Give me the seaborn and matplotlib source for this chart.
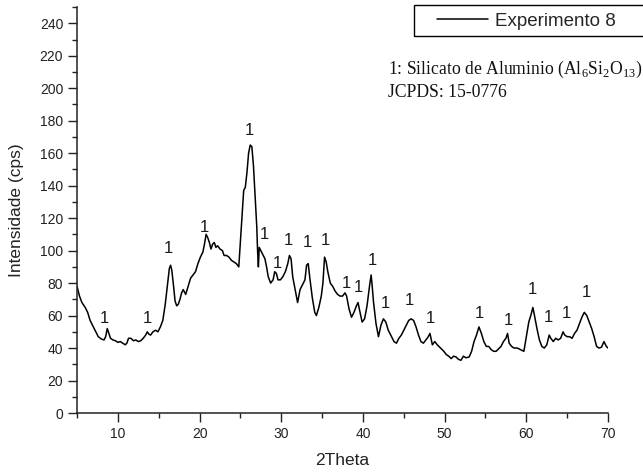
import matplotlib
matplotlib.use("Agg")
import matplotlib.pyplot as plt
from matplotlib.patches import Rectangle
from matplotlib.ticker import MultipleLocator
import seaborn as sns
import pandas as pd

# XRD pattern, Experimento 8 (2theta in degrees, intensity in cps)
two_theta = [
    5.0, 5.3, 5.6, 6.0, 6.3, 6.6, 7.0, 7.3, 7.6, 8.0, 8.3, 8.5, 8.7, 8.9, 9.1,
    9.4, 9.7, 10.0, 10.3, 10.6, 10.9, 11.1, 11.3, 11.6, 11.9, 12.2, 12.5, 12.8,
    13.1, 13.4, 13.6, 13.8, 14.0, 14.3, 14.6, 14.9, 15.2, 15.5, 15.8, 16.1,
    16.3, 16.45, 16.6, 16.8, 17.0, 17.2, 17.4, 17.6, 17.8, 18.0, 18.3, 18.6,
    18.9, 19.2, 19.5, 19.8, 20.1, 20.4, 20.6, 20.8, 21.0, 21.2, 21.4, 21.6,
    21.8, 22.0, 22.2, 22.5, 22.8, 23.0, 23.3, 23.6, 23.9, 24.2, 24.5, 24.8,
    25.0, 25.2, 25.4, 25.6, 25.8, 26.0, 26.2, 26.4, 26.6, 26.8, 27.0, 27.1,
    27.2, 27.3, 27.5, 27.7, 28.0, 28.2, 28.4, 28.7, 29.0, 29.2, 29.4, 29.6,
    29.9, 30.2, 30.5, 30.8, 31.0, 31.2, 31.4, 31.7, 32.0, 32.3, 32.6, 32.9,
    33.1, 33.3, 33.5, 33.8, 34.1, 34.3, 34.6, 34.9, 35.1, 35.3, 35.5, 35.7,
    36.0, 36.3, 36.6, 36.9, 37.2, 37.5, 37.8, 38.0, 38.3, 38.6, 38.9, 39.2,
    39.4, 39.6, 39.9, 40.2, 40.5, 40.8, 41.0, 41.1, 41.3, 41.6, 41.9, 42.2,
    42.5, 42.8, 43.1, 43.5, 43.8, 44.1, 44.4, 44.7, 45.0, 45.3, 45.6, 45.9,
    46.2, 46.5, 46.8, 47.1, 47.4, 47.7, 48.0, 48.2, 48.5, 48.8, 49.1, 49.5,
    49.9, 50.2, 50.5, 50.8, 51.1, 51.4, 51.7, 52.0, 52.3, 52.6, 53.0, 53.3,
    53.6, 53.9, 54.2, 54.5, 54.8, 55.1, 55.4, 55.7, 56.0, 56.3, 56.6, 56.9,
    57.2, 57.5, 57.7, 57.9, 58.2, 58.5, 58.9, 59.3, 59.7, 60.0, 60.3, 60.6,
    60.8, 61.0, 61.3, 61.6, 61.9, 62.2, 62.5, 62.8, 63.0, 63.3, 63.6, 63.9,
    64.2, 64.5, 64.7, 65.0, 65.3, 65.6, 65.9, 66.2, 66.5, 66.8, 67.1, 67.4,
    67.7, 68.0, 68.3, 68.6, 68.9, 69.2, 69.5, 69.8, 70.0,
]
intensity = [
    78, 72, 68, 65, 62, 57, 53, 50, 47, 45.5, 45, 47, 52, 49, 46,
    45, 44.5, 43.5, 44, 43, 42, 43, 46, 46, 44.5, 45, 44, 44.5,
    46, 48, 50, 48.5, 48, 50, 51, 50, 53, 57, 67, 80,
    89, 91, 88, 79, 69, 66, 67, 70, 74, 76, 73, 78,
    83, 85, 87, 92, 96, 99, 104, 110, 108, 105, 101, 104,
    105, 102, 103, 101, 100, 97, 97, 96, 94, 93, 92, 90,
    106, 122, 137, 139, 148, 160, 165, 164, 152, 133, 115, 100,
    90, 102, 100, 98, 95, 90, 84, 80, 82, 87, 86, 82,
    82, 84, 87, 92, 97, 95, 84, 76, 68, 76, 79, 82,
    91, 92, 83, 71, 62, 60, 65, 72, 80, 96, 93, 87,
    80, 78, 75, 73, 72, 72, 74, 72, 64, 59, 62, 66,
    68, 63, 56, 58, 66, 78, 85, 80, 68, 55, 47, 54,
    58, 56, 51, 47, 44, 43, 46, 48, 51, 54, 57, 58,
    57, 53, 48, 44, 43, 45, 47, 49, 42, 44, 42, 40,
    38, 36, 35, 33.5, 35, 34.5, 33, 32.5, 35, 34, 34.5, 38,
    44, 48, 53, 49, 44, 41, 41, 39, 38, 38, 39.5, 41,
    44, 46, 49, 43, 41, 40, 40, 39, 38, 47, 56, 61,
    65, 60, 52, 45, 41, 40, 42, 48, 46, 44, 46, 45,
    46, 50, 48, 47, 47, 46, 49, 51, 55, 59, 62, 60,
    56, 52, 47, 41, 40, 40.5, 44, 41, 40,
]

# Peak markers for phase 1 (Silicato de Aluminio, JCPDS 15-0776)
peak_x = [8.4, 13.6, 16.2, 20.6, 26.1, 27.9, 29.5, 30.9, 33.2, 35.4, 38.0,
          39.4, 41.1, 42.8, 45.7, 48.2, 54.3, 57.8, 60.7, 62.7, 64.9, 67.3]
peak_y = [58.5, 58.5, 101, 114.5, 174, 110, 92, 106, 105, 106.5, 80,
          77, 94, 67.5, 69.5, 58.5, 61.5, 57, 76, 59, 61, 74.5]
peak_label = "1"

series_label = "Experimento 8"
x_label = "2Theta"
y_label = "Intensidade (cps)"
phase_lines = ["1: Silicato de Aluminio (Al$_\\mathregular{6}$Si$_\\mathregular{2}$O$_\\mathregular{13}$)",
               "JCPDS: 15-0776"]

sns.set_theme(style="ticks")
plt.rcParams["font.family"] = ["Liberation Sans", "DejaVu Sans"]
plt.rcParams["mathtext.fontset"] = "custom"
plt.rcParams["mathtext.rm"] = "Liberation Serif"

df = pd.DataFrame({"2theta": two_theta, "intensity": intensity})

fig = plt.figure(figsize=(6.43, 4.75), dpi=100)
ax = fig.add_axes([0.1198, 0.1305, 0.8258, 0.8547])

sns.lineplot(data=df, x="2theta", y="intensity", color="black", linewidth=1.1,
             label=series_label, ax=ax, legend=False)

for px, py in zip(peak_x, peak_y):
    ax.text(px, py, peak_label, ha="center", va="center", fontsize=12,
            color="#1a1a1a")

ax.set_xlim(5, 70)
ax.set_ylim(0, 250)
ax.xaxis.set_major_locator(MultipleLocator(10))
ax.xaxis.set_minor_locator(MultipleLocator(5))
ax.yaxis.set_major_locator(MultipleLocator(20))
ax.yaxis.set_minor_locator(MultipleLocator(10))
ax.set_yticks(range(0, 241, 20))

sns.despine(ax=ax)
for side in ("left", "bottom"):
    ax.spines[side].set_color("#222222")
    ax.spines[side].set_linewidth(1.1)
ax.tick_params(which="major", direction="out", length=6.5, width=1.0,
               color="#222222", labelsize=10, labelcolor="#222222", pad=3.5)
ax.tick_params(which="minor", direction="out", length=3.5, width=1.0,
               color="#222222")
ax.set_xlabel(x_label, fontsize=12.5, color="#222222", labelpad=9)
ax.set_ylabel(y_label, fontsize=12.5, color="#222222", labelpad=11)

# legend with a square frame running off the right edge
handles, labels = ax.get_legend_handles_labels()
fig.legend(handles, labels, loc="center left",
           bbox_to_anchor=(437 / 643, 1 - 21 / 475),
           bbox_transform=fig.transFigure, frameon=False, fontsize=13.5,
           handlelength=2.7, handletextpad=0.4, borderpad=0,
           borderaxespad=0)
fig.patches.append(Rectangle((414 / 643, 1 - 36 / 475), 0.4, 31 / 475,
                             transform=fig.transFigure, fill=False,
                             edgecolor="black", linewidth=1.0))

fig.text(388 / 643, 1 - 74 / 475, phase_lines[0], fontsize=12.7,
         family="Liberation Serif", va="baseline", ha="left", color="#111111")
fig.text(388 / 643, 1 - 97 / 475, phase_lines[1], fontsize=12.7,
         family="Liberation Serif", va="baseline", ha="left", color="#111111")

fig.savefig("out.png", dpi=100)
